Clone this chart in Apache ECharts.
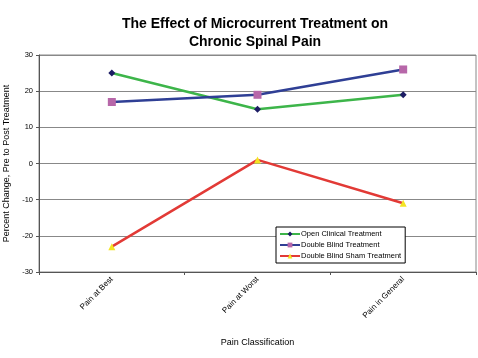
<!DOCTYPE html>
<html><head><meta charset="utf-8">
<script src="https://cdn.jsdelivr.net/npm/echarts@6/dist/echarts.min.js"></script>
<style>html,body{margin:0;padding:0;background:#fff}#c{width:478px;height:358px}</style>
</head><body><div id="c"></div>
<script>
const categories = ['Pain at Best', 'Pain at Worst', 'Pain in General'];
const openClinical = [25, 15, 19];
const doubleBlind = [17, 19, 26];
const doubleBlindSham = [-23, 1, -11];
const seriesNames = ['Open Clinical Treatment', 'Double Blind Treatment', 'Double Blind Sham Treatment'];

const chart = echarts.init(document.getElementById('c'));
const font = 'Liberation Sans, Arial, sans-serif';
chart.setOption({
  backgroundColor: '#fff',
  animation: false,
  title: {
    text: 'The Effect of Microcurrent Treatment on\nChronic Spinal Pain',
    left: 250, top: 10, textAlign: 'center',
    textStyle: {fontFamily: font, fontSize: 14, fontWeight: 'bold', color: '#000', lineHeight: 18}
  },
  grid: {left: 39, right: 2, top: 55, bottom: 86, show: true, borderColor: '#888', borderWidth: 1,
         containLabel: false, outerBoundsMode: 'none'},
  legend: {
    left: 276, top: 227, orient: 'vertical',
    itemWidth: 20, itemHeight: 6, itemGap: 3,
    padding: [3, 4, 3, 3],
    borderColor: '#000', borderWidth: 1, backgroundColor: '#fff',
    textStyle: {fontFamily: font, fontSize: 7.5, color: '#000', padding: [0,0,0,-4]},
    data: seriesNames
  },
  xAxis: {
    type: 'category', data: categories, boundaryGap: true,
    name: 'Pain Classification', nameLocation: 'middle', nameGap: 66,
    nameTextStyle: {fontFamily: font, fontSize: 9, color: '#000'},
    axisLine: {onZero: false, lineStyle: {color: '#555'}},
    axisTick: {show: true, length: 3, lineStyle: {color: '#555'}, alignWithLabel: false},
    axisLabel: {rotate: 45, fontFamily: font, fontSize: 8, color: '#000', margin: 6}
  },
  yAxis: {
    type: 'value', min: -30, max: 30, interval: 10,
    name: 'Percent Change, Pre to Post Treatment', nameLocation: 'middle', nameGap: 22,
    nameTextStyle: {fontFamily: font, fontSize: 9, color: '#000'},
    axisLine: {show: true, lineStyle: {color: '#555'}},
    axisTick: {show: true, length: 3, lineStyle: {color: '#555'}},
    axisLabel: {fontFamily: font, fontSize: 7.5, color: '#000', margin: 6},
    splitLine: {lineStyle: {color: '#888', width: 1}}
  },
  series: [
    {name: seriesNames[0], type: 'line', data: openClinical, symbol: 'diamond', symbolSize: 7,
     lineStyle: {color: '#3db54a', width: 2.5}, itemStyle: {color: '#1c1c64'}, color: '#3db54a'},
    {name: seriesNames[1], type: 'line', data: doubleBlind, symbol: 'rect', symbolSize: 8,
     lineStyle: {color: '#2f3f95', width: 2.5}, itemStyle: {color: '#b767a9'}, color: '#2f3f95'},
    {name: seriesNames[2], type: 'line', data: doubleBlindSham, symbol: 'triangle', symbolSize: 7,
     lineStyle: {color: '#e23a36', width: 2.5}, itemStyle: {color: '#f4e424'}, color: '#e23a36'}
  ]
});
</script></body></html>
